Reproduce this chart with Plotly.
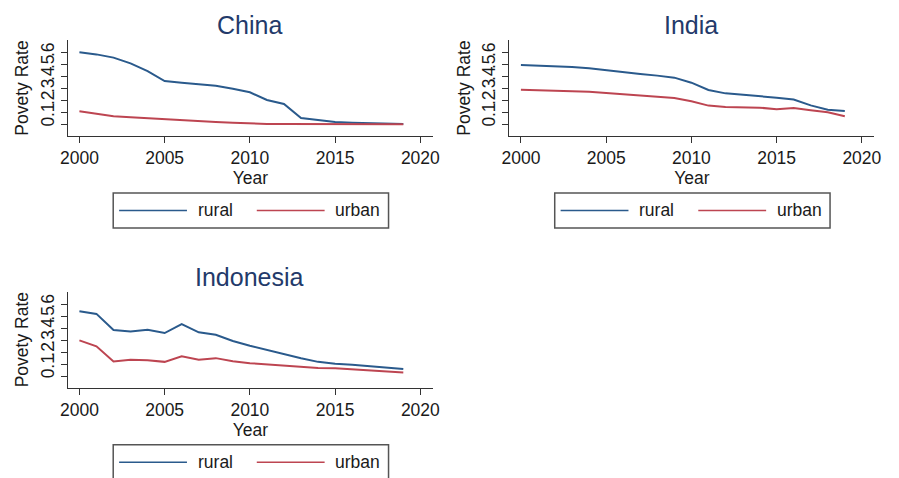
import plotly.graph_objects as go

# Poverty rate by area, 2000-2019
years = list(range(2000, 2020))

china_rural = [0.600, 0.583, 0.556, 0.508, 0.444, 0.361, 0.347, 0.333, 0.322, 0.297,
               0.267, 0.203, 0.169, 0.053, 0.036, 0.019, 0.014, 0.011, 0.008, 0.002]
china_urban = [0.108, 0.089, 0.067, 0.058, 0.050, 0.039, 0.031, 0.025, 0.019, 0.014,
               0.008, 0.003, 0.003, 0.003, 0.002, 0.002, 0.001, 0.001, 0.001, 0.000]

india_rural = [0.494, 0.489, 0.483, 0.478, 0.467, 0.450, 0.436, 0.419, 0.406, 0.389,
               0.347, 0.286, 0.258, 0.247, 0.233, 0.222, 0.206, 0.158, 0.122, 0.111]
india_urban = [0.289, 0.286, 0.283, 0.278, 0.272, 0.261, 0.250, 0.236, 0.225, 0.219,
               0.192, 0.156, 0.144, 0.144, 0.139, 0.125, 0.136, 0.117, 0.100, 0.067]

indonesia_rural = [0.540, 0.518, 0.383, 0.372, 0.386, 0.358, 0.433, 0.364, 0.344, 0.292,
                   0.253, 0.217, 0.187, 0.148, 0.118, 0.102, 0.094, 0.083, 0.072, 0.058]
indonesia_urban = [0.297, 0.248, 0.121, 0.135, 0.132, 0.118, 0.165, 0.135, 0.149, 0.124,
                   0.107, 0.096, 0.085, 0.074, 0.066, 0.064, 0.055, 0.047, 0.039, 0.030]

countries = ["China", "India", "Indonesia"]
series_labels = ["rural", "urban"]
y_tick_vals = [0, 0.1, 0.2, 0.3, 0.4, 0.5, 0.6]
y_tick_text = ["0", ".1", ".2", ".3", ".4", ".5", ".6"]
x_tick_vals = [2000, 2005, 2010, 2015, 2020]

W, H = 899, 478
FONT = "Liberation Sans, Arial, sans-serif"
BLUE = "#2a5a8c"
RED = "#bd4551"
TITLE_C = "#233a6a"
TXT = "#1a1a1a"
FS = 17.5


def px(x):
    return x / W


def py(y):
    return 1 - y / H


# panel boxes in pixels: (left, right, top, bottom)
panels = [
    (61, 432, 40, 136),
    (510, 881, 40, 136),
    (61, 432, 291.7, 387.7),
]
data = [(china_rural, china_urban), (india_rural, india_urban),
        (indonesia_rural, indonesia_urban)]

fig = go.Figure()
layout = dict(
    width=W, height=H, margin=dict(l=0, r=0, t=0, b=0),
    paper_bgcolor="white", plot_bgcolor="white",
    showlegend=False, font=dict(family=FONT, size=FS, color=TXT),
)
annotations = []
shapes = []

for i, (name, (rur, urb), (l, r, t, b)) in enumerate(zip(countries, data, panels)):
    sfx = "" if i == 0 else str(i + 1)
    fig.add_trace(go.Scatter(x=years, y=rur, mode="lines", name=series_labels[0],
                             line=dict(color=BLUE, width=2),
                             xaxis="x" + sfx, yaxis="y" + sfx))
    fig.add_trace(go.Scatter(x=years, y=urb, mode="lines", name=series_labels[1],
                             line=dict(color=RED, width=2),
                             xaxis="x" + sfx, yaxis="y" + sfx))
    layout["xaxis" + sfx] = dict(
        domain=[px(l), px(r)], anchor="y" + sfx, range=[1999.33, 2020.73],
        tickvals=x_tick_vals, ticks="outside", ticklen=6, tickcolor="#333",
        showline=True, linecolor="#333", linewidth=1, showgrid=False, zeroline=False,
        tickfont=dict(size=FS, color=TXT),
        title=dict(text="Year", font=dict(size=FS, color=TXT), standoff=0),
    )
    layout["yaxis" + sfx] = dict(
        domain=[py(b), py(t)], anchor="x" + sfx, range=[-0.0975, 0.703],
        tickvals=y_tick_vals, ticktext=y_tick_text, tickangle=-90,
        ticks="outside", ticklen=6, tickcolor="#333",
        showline=True, linecolor="#333", linewidth=1, showgrid=False, zeroline=False,
        tickfont=dict(size=FS, color=TXT),
        title=dict(text="Povety Rate", font=dict(size=FS, color=TXT), standoff=4),
    )
    # panel title
    cx = (l + r) / 2 - 0.5
    annotations.append(dict(text=name, x=px(cx), y=py(t - 15), xref="paper", yref="paper",
                            xanchor="center", yanchor="middle", showarrow=False,
                            font=dict(size=25, color=TITLE_C)))
    # legend box below each panel
    lx0, ly0 = l + 46, b + 57
    lx1, ly1 = lx0 + 280, ly0 + 35
    shapes.append(dict(type="rect", xref="paper", yref="paper",
                       x0=px(lx0), x1=px(lx1), y0=py(ly1), y1=py(ly0),
                       line=dict(color="#555", width=1.5), fillcolor="white"))
    ymid = (ly0 + ly1) / 2
    for k, (lab, col) in enumerate(zip(series_labels, [BLUE, RED])):
        sx0 = lx0 + 6 + k * 140
        shapes.append(dict(type="line", xref="paper", yref="paper",
                           x0=px(sx0), x1=px(sx0 + 69), y0=py(ymid), y1=py(ymid),
                           line=dict(color=col, width=1.5)))
        annotations.append(dict(text=lab, x=px(sx0 + 78), y=py(ymid), xref="paper",
                                yref="paper", xanchor="left", yanchor="middle",
                                showarrow=False, font=dict(size=FS, color=TXT)))

layout["annotations"] = annotations
layout["shapes"] = shapes
fig.update_layout(**layout)
fig.write_html("out.html")
